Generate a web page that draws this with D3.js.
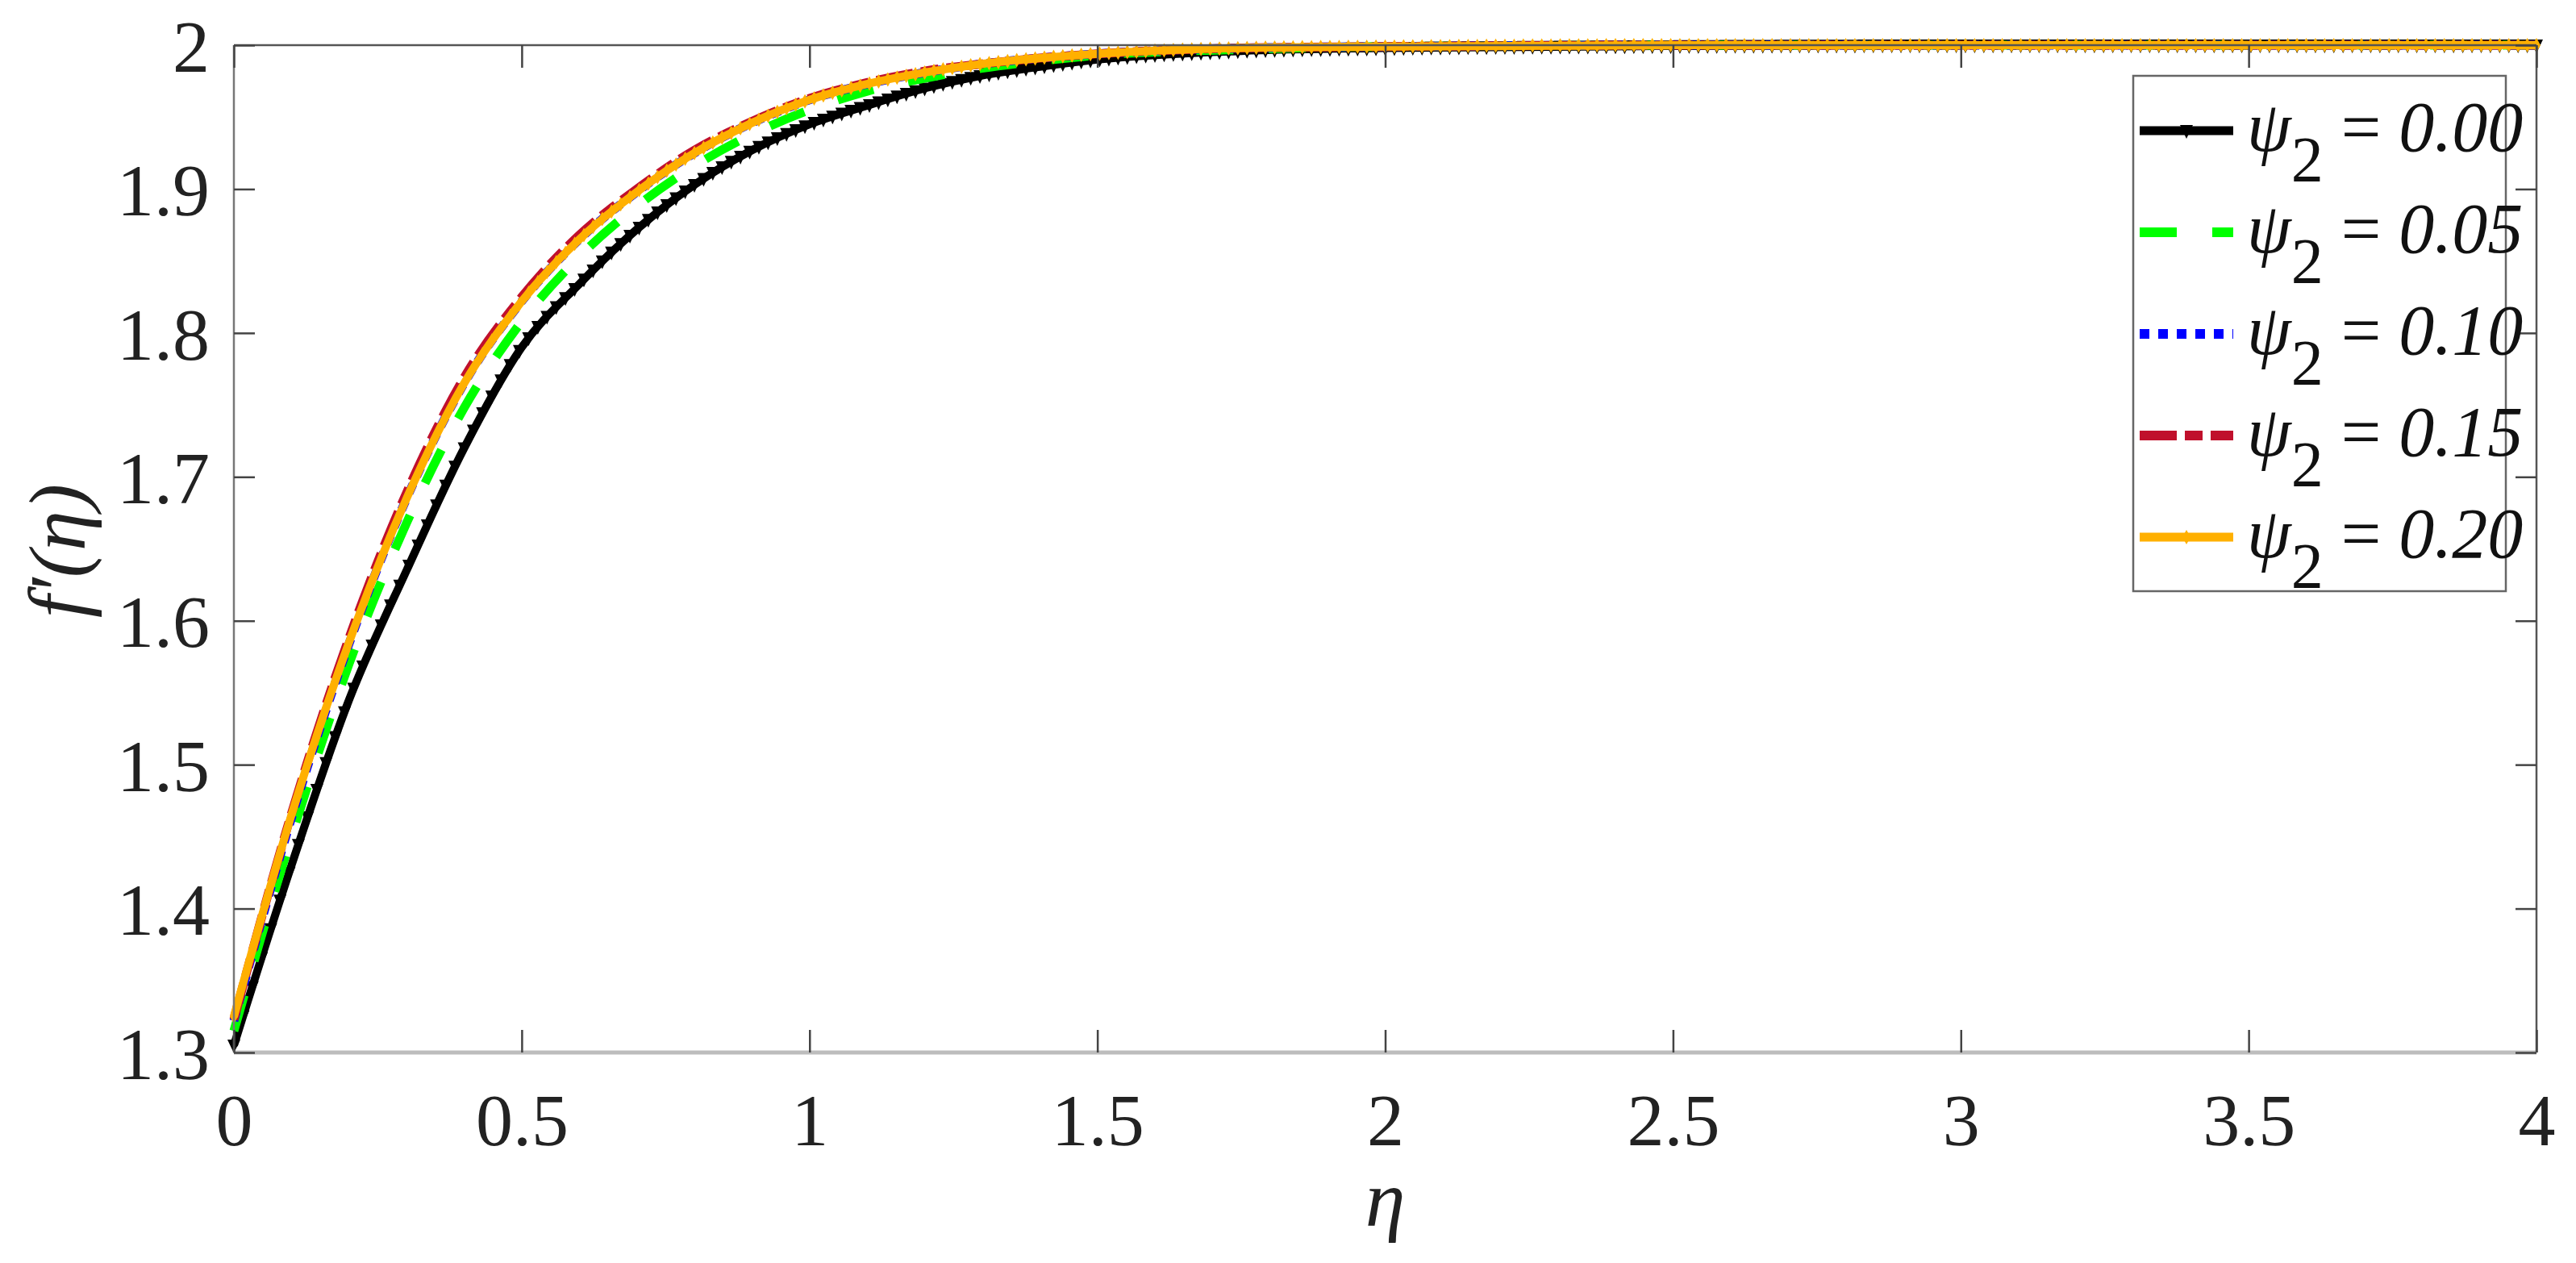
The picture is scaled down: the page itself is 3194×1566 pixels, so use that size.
<!DOCTYPE html>
<html><head><meta charset="utf-8">
<script src="https://cdn.jsdelivr.net/npm/d3@7"></script>
<style>body{margin:0;background:#fff}</style></head>
<body><svg id="c" width="3194" height="1566"></svg>
<script>
const eta = [0,0.1,0.2,0.3,0.4,0.5,0.6,0.7,0.8,0.9,1.0,1.1,1.2,1.3,1.4,1.5,1.75,2,2.5,3,3.5,4];
const s000 = [1.305,1.430,1.545,1.635,1.720,1.790,1.834,1.872,1.903,1.927,1.945,1.958,1.970,1.979,1.985,1.990,1.996,1.998,1.9995,2,2,2];
const s005 = [1.315,1.450,1.570,1.668,1.748,1.808,1.853,1.888,1.916,1.938,1.955,1.968,1.977,1.984,1.989,1.993,1.997,1.999,2,2,2,2];
const s010 = [1.322,1.463,1.584,1.685,1.765,1.822,1.865,1.898,1.925,1.946,1.962,1.973,1.981,1.987,1.991,1.994,1.998,1.999,2,2,2,2];
const s015 = [1.323,1.466,1.588,1.689,1.769,1.825,1.868,1.900,1.927,1.947,1.963,1.974,1.982,1.987,1.991,1.994,1.998,1.999,2,2,2,2];
const s020 = [1.325,1.465,1.585,1.685,1.765,1.822,1.865,1.898,1.925,1.946,1.962,1.973,1.981,1.987,1.991,1.994,1.998,1.999,2,2,2,2];
const labels = ["0.00","0.05","0.10","0.15","0.20"];
const xTicks = [0,0.5,1,1.5,2,2.5,3,3.5,4];
const yTicks = [1.3,1.4,1.5,1.6,1.7,1.8,1.9,2];

const series = [
 {v:s000,color:"#000000",w:10,dash:null,marker:"tri"},
 {v:s005,color:"#00ff00",w:11,dash:"46,44",marker:null},
 {v:s010,color:"#0000ff",w:11,dash:"12,11",marker:null},
 {v:s015,color:"#c0102c",w:11,dash:"46,10,22,10",marker:null},
 {v:s020,color:"#ffb000",w:10,dash:null,marker:"dia"}
];
const L=290,R=3145,T=56,B=1305;
const x=d3.scaleLinear().domain([0,4]).range([L,R]);
const y=d3.scaleLinear().domain([1.3,2]).range([B,T]);
const svg=d3.select("#c");
const font="'Liberation Serif','DejaVu Serif',serif";

// lines
const line=d3.line().x((d,i)=>x(eta[i])).y(d=>y(d)).curve(d3.curveMonotoneX);
const clip=svg.append("clipPath").attr("id","cl").append("rect").attr("x",L-20).attr("y",T-20).attr("width",R-L+40).attr("height",B-T+40);
const g=svg.append("g").attr("clip-path","url(#cl)");
function markerPath(type,cx,cy){
  if(type==="tri") return `M${cx-8},${cy-7}L${cx+8},${cy-7}L${cx},${cy+10}Z`;
  return `M${cx},${cy-9}L${cx+5},${cy}L${cx},${cy+9}L${cx-5},${cy}Z`;
}
series.forEach(s=>{
  const p=g.append("path").attr("d",line(s.v)).attr("fill","none").attr("stroke",s.color)
   .attr("stroke-width",s.w).attr("stroke-dasharray",s.dash);
  if(s.marker){
    const node=p.node(), len=node.getTotalLength();
    const pts=[]; let lo=0;
    d3.range(0,4.0001,0.016).forEach(t=>{
      const tx=x(t); let a=lo,b=len;
      for(let k=0;k<30;k++){const m=(a+b)/2; if(node.getPointAtLength(m).x<tx)a=m;else b=m;}
      lo=a; pts.push(node.getPointAtLength(b));
    });
    g.append("path").attr("d",pts.map(q=>markerPath(s.marker,q.x,q.y)).join("")).attr("fill",s.color);
  }
});

// axes box
const ax=svg.append("g");
ax.append("line").attr("x1",L).attr("x2",R).attr("y1",B).attr("y2",B).attr("stroke","#bdbdbd").attr("stroke-width",5);
ax.append("line").attr("x1",L).attr("x2",R).attr("y1",T).attr("y2",T).attr("stroke","#555").attr("stroke-width",2.5);
ax.append("line").attr("x1",L).attr("x2",L).attr("y1",T).attr("y2",B).attr("stroke","#777").attr("stroke-width",2.5);
ax.append("line").attr("x1",R).attr("x2",R).attr("y1",T).attr("y2",B).attr("stroke","#555").attr("stroke-width",2.5);
const bx=d3.axisBottom(x).tickValues(xTicks).tickSize(-28).tickFormat(d3.format("~g"));
const gb=svg.append("g").attr("transform",`translate(0,${B})`).call(bx);
const gt=svg.append("g").attr("transform",`translate(0,${T})`).call(d3.axisTop(x).tickValues(xTicks).tickSize(-28).tickFormat(""));
const gl=svg.append("g").attr("transform",`translate(${L},0)`).call(d3.axisLeft(y).tickValues(yTicks).tickSize(-26).tickFormat(d3.format("~g")));
const gr=svg.append("g").attr("transform",`translate(${R},0)`).call(d3.axisRight(y).tickValues(yTicks).tickSize(-26).tickFormat(""));
[gb,gt,gl,gr].forEach(a=>{a.select(".domain").remove();a.selectAll(".tick line").attr("stroke","#444").attr("stroke-width",2.5);});
gb.selectAll("text").attr("font-family",font).attr("font-size",92).attr("fill","#222").attr("dy",0).attr("y",115);
gl.selectAll("text").attr("font-family",font).attr("font-size",92).attr("fill","#222").attr("x",-30).attr("dy","0.35em");

// axis labels
svg.append("text").attr("x",(L+R)/2).attr("y",1520).attr("text-anchor","middle").attr("font-family",font)
 .attr("font-style","italic").attr("font-size",100).attr("fill","#222").text("η");
svg.append("text").attr("transform","translate(105,683) rotate(-90)").attr("text-anchor","middle").attr("font-family",font)
 .attr("font-style","italic").attr("font-size",100).attr("fill","#222").text("f′(η)");

// legend
const lg=svg.append("g");
lg.append("rect").attr("x",2645).attr("y",94).attr("width",462).attr("height",639).attr("fill","#fff").attr("stroke","#666").attr("stroke-width",2.5);
series.forEach((s,i)=>{
  const yy=162+i*126;
  lg.append("line").attr("x1",2653).attr("x2",2769).attr("y1",yy).attr("y2",yy).attr("stroke",s.color)
   .attr("stroke-width",s.w+1).attr("stroke-dasharray",s.dash);
  if(s.marker) lg.append("path").attr("d",markerPath(s.marker,2711,yy)).attr("fill",s.color);
  const t=lg.append("text").attr("x",2786).attr("y",yy+25).attr("font-family",font).attr("font-style","italic")
   .attr("font-size",88).attr("fill","#111");
  t.append("tspan").text("ψ");
  t.append("tspan").attr("dy",38).attr("font-style","normal").attr("font-size",80).text("2");
  t.append("tspan").attr("dy",-38).attr("font-style","normal").text(" = ");
  t.append("tspan").text(labels[i]);
});
</script></body></html>
